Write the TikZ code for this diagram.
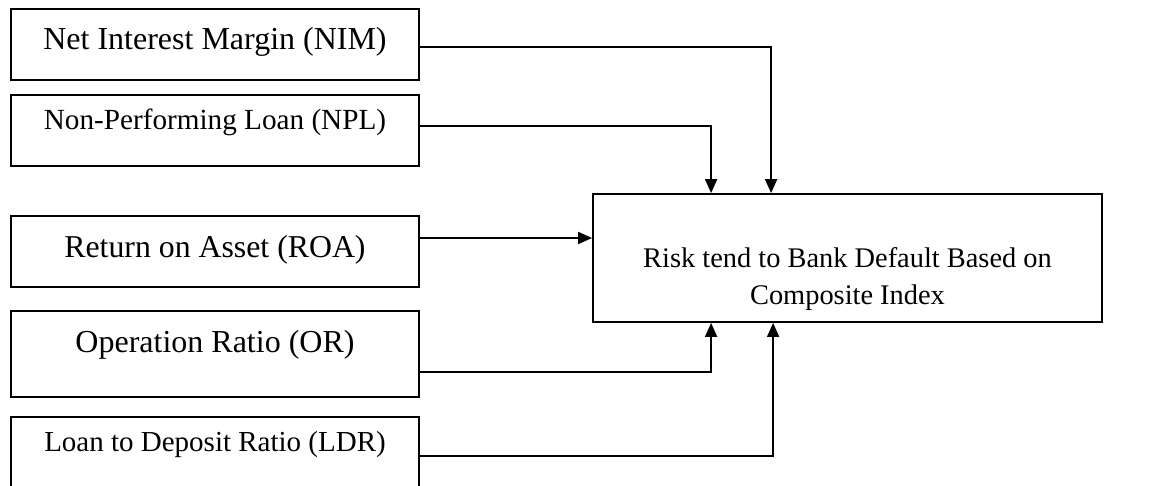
\documentclass[tikz,border=0pt]{standalone}
\usepackage{fontspec}
\setmainfont{Liberation Serif}
\usetikzlibrary{arrows.meta}
\newcommand\fs[1]{\fontsize{#1}{18.5}\selectfont}

\begin{document}
\begin{tikzpicture}[
  x=0.5pt,
  y=-0.5pt,
  line width=0.9pt,
  >={Triangle[length=7pt,width=6pt]},
  box/.style={draw, rectangle, inner sep=0pt, minimum width=204pt},
  tb/.style 2 args={text height=#1, text depth=#2}]
\useasboundingbox (0,0) rectangle (1167,486);
\begin{scope}[every node/.style=box]
\draw
  (215,44.5) node[tb={20.5pt}{15pt}, font=\fs{16}] (NIM) {Net Interest Margin (NIM)}
  (215,130.5) node[tb={17.5pt}{18pt}, font=\fs{14.6}] (NPL) {Non-Performing Loan (NPL)}
  (215,251.5) node[tb={20.5pt}{15pt}, font=\fs{15.9}] (ROA) {Return on Asset (ROA)}
  (215,354) node[tb={20.5pt}{22.5pt}, font=\fs{16}] (OR) {Operation Ratio (OR)}
  (215,454) node[tb={17pt}{20pt}, font=\fs{14.5}] (LDR) {Loan to Deposit Ratio (LDR)}
  ;
  \end{scope}
\node[draw, minimum width=254.5pt, minimum height=64pt,
  align=center, font=\fs{14.2}] (RBD) at (847.5,258)
  {\rule{0pt}{31.5pt}Risk tend to Bank Default Based on\\Composite Index};
% arrows into the composite index
\path ([yshift=6.75pt]ROA.east) coordinate (roa);
\draw[->] ([yshift=-1.25pt]NIM.east) -| ([xshift=89.5pt]RBD.north west);
\draw[->] ([yshift=2.25pt]NPL.east) -| ([xshift=59.5pt]RBD.north west);
\draw[->] (roa) -- (roa -| RBD.west);
\draw[->] ([yshift=-9pt]OR.east) -| ([xshift=59.5pt]RBD.south west);
\draw[->] ([yshift=-1pt]LDR.east) -| ([xshift=90.5pt]RBD.south west);
\end{tikzpicture}
\end{document}
